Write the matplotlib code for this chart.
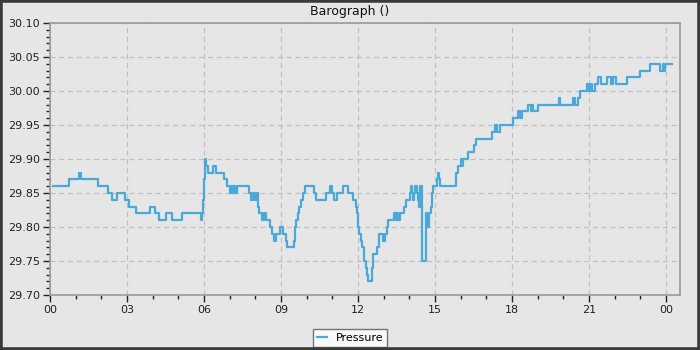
import numpy as np
import matplotlib
matplotlib.use("Agg")
import matplotlib.pyplot as plt
from matplotlib.patches import Rectangle

plt.rcParams.update({
    "font.family": "DejaVu Sans",
    "font.size": 8,
})

# hours since midnight where the reading changes, and the new reading (inHg)
hours = [
    0.10, 0.75, 1.13, 1.22, 1.88, 2.27, 2.42, 2.62, 2.92, 3.09,
    3.35, 3.90, 4.09, 4.26, 4.52, 4.74, 5.13, 5.88, 5.93, 5.97,
    6.00, 6.04, 6.08, 6.17, 6.34, 6.45, 6.79, 6.88, 7.00, 7.05,
    7.10, 7.15, 7.22, 7.27, 7.77, 7.85, 7.90, 8.00, 8.05, 8.09,
    8.16, 8.28, 8.35, 8.40, 8.57, 8.64, 8.74, 8.80, 8.96, 9.08,
    9.20, 9.25, 9.52, 9.56, 9.60, 9.66, 9.72, 9.80, 9.86, 9.95,
    10.30, 10.38, 10.75, 10.92, 11.00, 11.05, 11.20, 11.43, 11.62, 11.79,
    11.92, 11.97, 12.02, 12.05, 12.10, 12.17, 12.23, 12.30, 12.35, 12.38,
    12.53, 12.57, 12.60, 12.73, 12.83, 12.96, 13.05, 13.12, 13.18, 13.40,
    13.47, 13.52, 13.57, 13.64, 13.79, 13.87, 14.03, 14.08, 14.12, 14.16,
    14.20, 14.24, 14.29, 14.33, 14.38, 14.42, 14.48, 14.51, 14.64, 14.68,
    14.78, 14.83, 14.87, 14.94, 15.07, 15.12, 15.14, 15.19, 15.82, 15.84,
    15.91, 16.01, 16.05, 16.09, 16.30, 16.52, 16.60, 17.21, 17.34, 17.40,
    17.53, 18.05, 18.25, 18.31, 18.38, 18.64, 18.73, 18.79, 18.83, 19.00,
    19.84, 19.89, 20.39, 20.45, 20.58, 20.67, 20.93, 21.01, 21.07, 21.14,
    21.23, 21.36, 21.49, 21.71, 21.85, 21.92, 22.05, 22.47, 22.99, 23.38,
    23.77, 23.87, 23.92, 23.97, 24.22,
]
pressure = [
    29.86, 29.87, 29.88, 29.87, 29.86, 29.85, 29.84, 29.85, 29.84, 29.83,
    29.82, 29.83, 29.82, 29.81, 29.82, 29.81, 29.82, 29.81, 29.82, 29.84,
    29.87, 29.90, 29.89, 29.88, 29.89, 29.88, 29.87, 29.86, 29.85, 29.86,
    29.85, 29.86, 29.85, 29.86, 29.85, 29.84, 29.85, 29.84, 29.85, 29.83,
    29.82, 29.81, 29.82, 29.81, 29.80, 29.79, 29.78, 29.79, 29.80, 29.79,
    29.78, 29.77, 29.78, 29.80, 29.81, 29.82, 29.83, 29.84, 29.85, 29.86,
    29.85, 29.84, 29.85, 29.86, 29.85, 29.84, 29.85, 29.86, 29.85, 29.84,
    29.83, 29.82, 29.80, 29.79, 29.78, 29.77, 29.75, 29.74, 29.73, 29.72,
    29.74, 29.75, 29.76, 29.77, 29.79, 29.78, 29.79, 29.80, 29.81, 29.82,
    29.81, 29.82, 29.81, 29.82, 29.83, 29.84, 29.85, 29.86, 29.85, 29.84,
    29.85, 29.86, 29.85, 29.84, 29.83, 29.86, 29.81, 29.75, 29.82, 29.80,
    29.82, 29.83, 29.85, 29.86, 29.87, 29.88, 29.87, 29.86, 29.87, 29.88,
    29.89, 29.90, 29.89, 29.90, 29.91, 29.92, 29.93, 29.94, 29.95, 29.94,
    29.95, 29.96, 29.97, 29.96, 29.97, 29.98, 29.97, 29.98, 29.97, 29.98,
    29.99, 29.98, 29.99, 29.98, 29.99, 30.00, 30.01, 30.00, 30.01, 30.00,
    30.01, 30.02, 30.01, 30.02, 30.01, 30.02, 30.01, 30.02, 30.03, 30.04,
    30.03, 30.04, 30.03, 30.04, 30.04,
]

x_ticks = [0, 3, 6, 9, 12, 15, 18, 21, 24]
x_labels = ["00", "03", "06", "09", "12", "15", "18", "21", "00"]

bg = "#e6e6e6"
fig = plt.figure(figsize=(7, 3.5), dpi=100, facecolor=bg)
ax = fig.add_axes([50 / 700, 55 / 350, 630 / 700, 272 / 350])
ax.set_facecolor(bg)

line, = ax.plot(hours, pressure, drawstyle="steps-post", color="#4ba9d9",
                lw=1.6, label="Pressure")

ax.set_xlim(0, 24.55)
ax.set_ylim(29.70, 30.10)
ax.set_xticks(x_ticks)
ax.set_xticklabels(x_labels)
ax.set_xticks(np.arange(0, 25, 1), minor=True)
ax.set_yticks(np.arange(29.70, 30.101, 0.05))
ax.set_yticks(np.arange(29.70, 30.101, 0.01), minor=True)
ax.yaxis.set_major_formatter(matplotlib.ticker.FormatStrFormatter("%.2f"))

ax.grid(True, which="major", color="#c0c0c0", ls=(0, (4, 3)), lw=0.9)
ax.tick_params(which="major", length=5, width=1, color="#222222",
               labelcolor="#222222", pad=2)
ax.tick_params(which="minor", length=3, width=1, color="#222222")
for s in ax.spines.values():
    s.set_color("#999999")
    s.set_linewidth(1.2)

fig.text(0.5, 1 - 11 / 350, "Barograph ()", ha="center", va="center",
         fontsize=9, color="#111111")

leg = fig.legend(handles=[line], loc="center", bbox_to_anchor=(350 / 700, 1 - 338 / 350),
                 frameon=True, fancybox=False, handlelength=0.9, handletextpad=0.8,
                 borderpad=0.35, fontsize=8)
leg.get_frame().set_edgecolor("#555555")
leg.get_frame().set_facecolor("white")
leg.get_frame().set_linewidth(1)

# dark window border around the whole image
fig.patches.append(Rectangle((0, 0), 1, 1, transform=fig.transFigure,
                             fill=False, edgecolor="#3a3a3a", lw=4, zorder=10))

fig.savefig("out.png", dpi=100, facecolor=bg)
